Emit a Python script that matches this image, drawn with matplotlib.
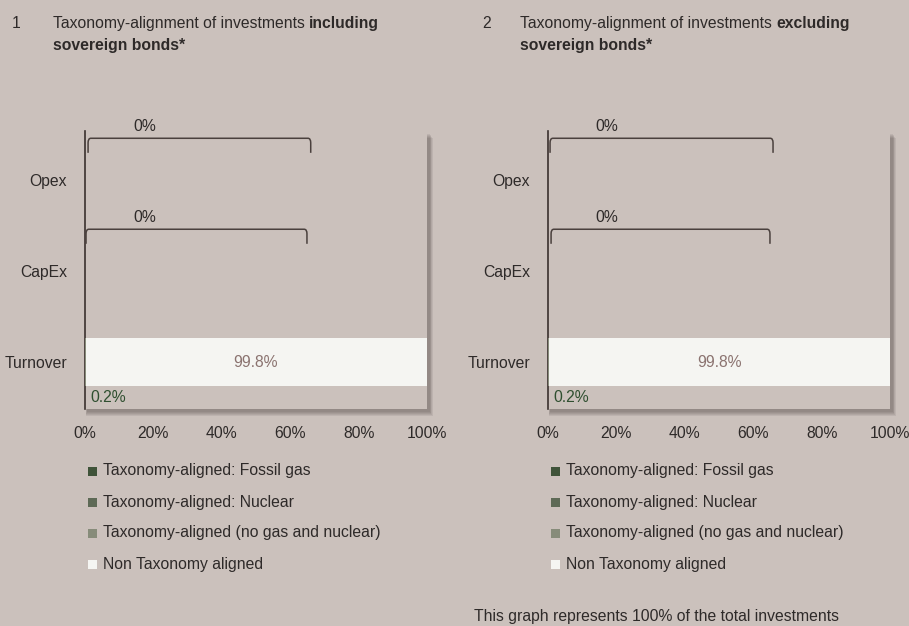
import matplotlib
matplotlib.use("Agg")
import matplotlib.pyplot as plt
from matplotlib.patches import Rectangle, PathPatch
from matplotlib.path import Path
from matplotlib.text import Annotation
import matplotlib.font_manager as fm

# ---------------- data ----------------
categories = ["Turnover", "CapEx", "Opex"]
fossil_gas = [0.0, 0.0, 0.0]
nuclear = [0.0, 0.0, 0.0]
aligned_other = [0.2, 0.0, 0.0]
non_aligned = [99.8, 0.0, 0.0]
bracket_labels = {"CapEx": "0%", "Opex": "0%"}
bar_labels_non = ["99.8%", "", ""]
bar_labels_aligned = ["0.2%", "", ""]
x_ticks = [0, 20, 40, 60, 80, 100]
x_tick_labels = ["0%", "20%", "40%", "60%", "80%", "100%"]
series_labels = ["Taxonomy-aligned: Fossil gas", "Taxonomy-aligned: Nuclear",
                 "Taxonomy-aligned (no gas and nuclear)", "Non Taxonomy aligned"]
panel_numbers = ["1", "2"]
panel_titles_normal = ["Taxonomy-alignment of investments", "Taxonomy-alignment of investments"]
panel_titles_bold1 = ["including", "excluding"]
panel_titles_bold2 = ["sovereign bonds*", "sovereign bonds*"]
footnote = "This graph represents 100% of the total investments"

# ---------------- style ----------------
BG = "#CBC1BC"
C_FOSSIL = "#3F5339"
C_NUC = "#5E6A56"
C_ALIGN = "#878C7A"
C_NON = "#F5F5F2"
TXT = "#2E2A29"

avail = {f.name for f in fm.fontManager.ttflist}
fam = [f for f in ["Liberation Sans Narrow", "Liberation Sans", "DejaVu Sans"] if f in avail]
plt.rcParams["font.family"] = fam
narrow = "Liberation Sans Narrow" in avail
FS = 12.5 if narrow else 11.3

W, H = 909, 626
fig = plt.figure(figsize=(W / 100, H / 100), dpi=100, facecolor=BG)


def fx(x):
    return x / W


def fy(y):
    return 1 - y / H


def bracket(ax, x0, x1, ytop, ybot, r=0.8):
    verts = [(x0, ybot), (x0, ytop - 0.05), (x0, ytop), (x0 + r, ytop),
             (x1 - r, ytop), (x1, ytop), (x1, ytop - 0.05), (x1, ybot)]
    codes = [Path.MOVETO, Path.LINETO, Path.CURVE3, Path.CURVE3,
             Path.LINETO, Path.CURVE3, Path.CURVE3, Path.LINETO]
    ax.add_patch(PathPatch(Path(verts, codes), fill=False, edgecolor="#4A403D",
                           lw=1.1, clip_on=False, zorder=5))


panels = [
    dict(left=85, title_x=53, num_x=12, leg_x=88,
         brackets={"Opex": (0.9, 66.0), "CapEx": (0.3, 64.9)}, lab_x=17.5),
    dict(left=548, title_x=520, num_x=482, leg_x=551,
         brackets={"Opex": (0.6, 65.8), "CapEx": (0.9, 64.9)}, lab_x=17.3),
]
top, bottom, width = 131, 409, 342

for i, p in enumerate(panels):
    L = p["left"]
    # drop shadow
    for k in range(5):
        fig.add_artist(Rectangle((fx(L + 2 - k * 0.3), fy(bottom + 3 + k)),
                                 (width + 1 + k) / W, (bottom - top) / H,
                                 transform=fig.transFigure, facecolor="#3A3030",
                                 edgecolor="none", alpha=0.09, zorder=0))
    ax = fig.add_axes([fx(L), fy(bottom), width / W, (bottom - top) / H], zorder=2)
    ax.set_facecolor(BG)
    ypos = list(range(len(categories)))
    h = 0.52
    left_acc = [0.0] * len(categories)
    for vals, col in [(fossil_gas, C_FOSSIL), (nuclear, C_NUC),
                      (aligned_other, C_ALIGN), (non_aligned, C_NON)]:
        ax.barh(ypos, vals, height=h, left=left_acc, color=col, edgecolor="none", zorder=3)
        left_acc = [a + v for a, v in zip(left_acc, vals)]
    ax.set_xlim(0, 100)
    ax.set_ylim(-0.516, 2.54)
    ax.set_yticks(ypos)
    ax.set_yticklabels(categories, fontsize=FS, color=TXT)
    ax.set_xticks(x_ticks)
    ax.set_xticklabels(x_tick_labels, fontsize=FS, color=TXT)
    ax.tick_params(axis="both", length=0)
    ax.tick_params(axis="y", pad=13)
    ax.tick_params(axis="x", pad=12)
    for s in ["top", "right", "bottom"]:
        ax.spines[s].set_visible(False)
    ax.spines["left"].set_color("#3A302E")
    ax.spines["left"].set_linewidth(1.2)

    # bar labels
    for j, cat in enumerate(categories):
        if bar_labels_non[j]:
            ax.text(50, ypos[j], bar_labels_non[j], ha="center", va="center",
                    fontsize=FS, color="#8B7370", zorder=6)
        if bar_labels_aligned[j]:
            ax.text(1.5, ypos[j] - 0.395, bar_labels_aligned[j], ha="left", va="center",
                    fontsize=FS, color="#2F4F30", zorder=6)
    # brackets
    for cat, (bx0, bx1) in p["brackets"].items():
        yc = categories.index(cat)
        bracket(ax, bx0, bx1, yc + 0.46, yc + 0.30)
        ax.text(p["lab_x"], yc + 0.585, bracket_labels[cat], ha="center", va="center",
                fontsize=FS, color=TXT, clip_on=False)

    # titles
    fig.text(fx(p["num_x"]), fy(28), panel_numbers[i], fontsize=FS, color=TXT, va="baseline")
    t1 = fig.text(fx(p["title_x"]), fy(28), panel_titles_normal[i] + " ", fontsize=FS,
                  color=TXT, va="baseline")
    ann = Annotation(panel_titles_bold1[i], xy=(1, 0), xycoords=t1, fontsize=FS,
                     color=TXT, fontweight="bold", va="bottom", ha="left")
    fig.add_artist(ann)
    fig.text(fx(p["title_x"]), fy(50), panel_titles_bold2[i], fontsize=FS, color=TXT,
             fontweight="bold", va="baseline")

    # legend
    rows = [471, 502, 533, 564]
    cols = [C_FOSSIL, C_NUC, C_ALIGN, C_NON]
    for r, lab, col in zip(rows, series_labels, cols):
        fig.add_artist(Rectangle((fx(p["leg_x"]), fy(r + 4.5)), 9 / W, 9 / H,
                                 transform=fig.transFigure, facecolor=col, edgecolor="none"))
        fig.text(fx(p["leg_x"] + 15), fy(r), lab, fontsize=FS, color=TXT, va="center")

fig.text(fx(474), fy(621), footnote, fontsize=FS, color=TXT, va="baseline")

fig.savefig("out.png", dpi=100, facecolor=BG)
